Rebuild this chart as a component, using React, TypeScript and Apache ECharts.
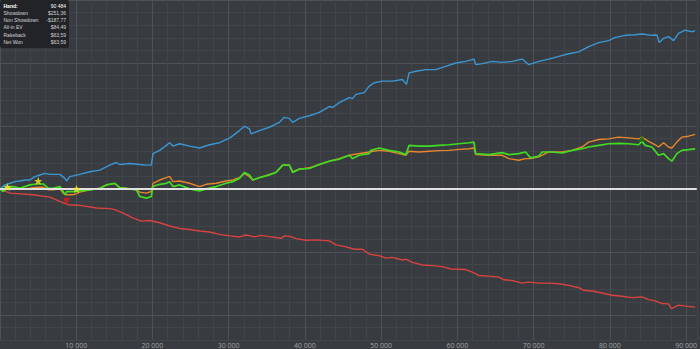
import React, { useEffect, useRef } from "react";
import * as echarts from "echarts";

// [hands, dollars]
const showdownData: number[][] = [
  [0, 0], [654, 6.3], [1309, 8.9], [1963, 11.5], [2618, 12.6], [3272, 14.1], [3927, 14.1], [4581, 19.4],
  [5236, 22.0], [5890, 24.6], [6545, 23.0], [7853, 23.0], [8508, 16.7], [8726, 12.6], [9162, 19.4],
  [10471, 23.0], [11780, 27.2], [13089, 29.8], [14398, 37.7], [15271, 41.9], [15707, 38.7], [17016, 40.3],
  [18325, 38.7], [19197, 37.7], [19852, 37.7], [20070, 56.0], [20942, 61.2], [21815, 69.1], [22251, 73.3],
  [22688, 68.0], [23560, 71.7], [24869, 68.0], [26178, 64.9], [27487, 70.1], [28796, 73.3], [30105, 80.6],
  [31414, 92.6], [32068, 99.4], [32723, 95.2], [32941, 87.4], [34031, 92.6], [35340, 97.9], [36649, 105.7],
  [37304, 113.6], [37958, 112.0], [38394, 105.7], [39267, 112.0], [40576, 116.2], [41885, 121.4],
  [43194, 130.8], [43630, 129.3], [44503, 137.1], [45815, 145.0], [46251, 143.4], [46688, 150.2],
  [47778, 152.8], [48433, 163.3], [49087, 168.5], [50178, 171.1], [51487, 171.1], [52796, 173.7],
  [53319, 165.9], [53668, 184.2], [54541, 186.8], [55850, 189.4], [57159, 189.4], [58468, 194.7],
  [59777, 199.9], [61086, 202.5], [62176, 206.2], [62395, 197.3], [63267, 198.9], [64576, 202.5],
  [65885, 200.9], [67194, 202.5], [68503, 206.2], [69375, 197.3], [70684, 202.5], [71993, 206.2],
  [73302, 210.4], [74611, 214.6], [75920, 217.7], [77229, 226.1], [78538, 232.3], [79847, 235.5],
  [80719, 240.7], [82028, 243.9], [83337, 244.9], [84209, 246.0], [85518, 243.9], [86173, 244.4],
  [86478, 232.3], [87045, 239.1], [87700, 241.8], [88354, 235.5], [89009, 247.0], [89882, 252.2],
  [90754, 249.5], [91191, 251.36],
];

const nonShowdownData: number[][] = [
  [0, 0], [1309, -6.8], [4320, -9.4], [6545, -13.0], [8077, -20.9], [8941, -25.1], [10472, -26.1],
  [12658, -30.3], [14399, -31.4], [15054, -33.0], [16101, -38.1], [17410, -46.0], [18549, -51.2],
  [19635, -50.2], [20944, -53.8], [22253, -59.0], [23562, -62.8], [24871, -64.4], [26180, -66.9],
  [27489, -68.4], [28798, -72.2], [30107, -74.7], [31416, -76.3], [32293, -73.2], [33380, -76.3],
  [34257, -73.8], [35343, -75.8], [36875, -78.5], [37307, -74.7], [38184, -75.8], [38838, -79.0],
  [40147, -81.6], [41456, -81.0], [43197, -82.6], [44074, -88.9], [45383, -92.0], [46470, -95.8],
  [47556, -95.8], [48433, -103.6], [49742, -106.1], [50619, -109.9], [51483, -108.8], [52792, -113.0],
  [53237, -111.5], [54101, -116.6], [55410, -120.9], [56719, -121.8], [58028, -123.4], [59128, -127.2],
  [61091, -128.1], [61955, -132.3], [62832, -137.5], [64141, -138.6], [65450, -140.2], [66105, -144.4],
  [67152, -145.4], [68461, -149.6], [69377, -148.0], [70686, -149.6], [71995, -149.6], [73304, -150.7],
  [74613, -153.2], [75922, -157.0], [76577, -161.1], [77663, -162.2], [78972, -165.3], [80281, -168.9],
  [81590, -170.5], [82899, -172.7], [84208, -171.6], [85085, -175.8], [85962, -177.9], [86826, -182.1],
  [87703, -182.6], [88056, -190.0], [89012, -184.6], [89889, -186.2], [91191, -187.77],
];

const allInEvData: number[][] = [
  [0, 0], [436, -3.1], [873, 2.1], [1745, 1.0], [2618, 0], [3927, 1.0], [4799, 2.6], [5672, 2.6],
  [6326, -1.6], [6981, -1.6], [7853, 0], [8290, -6.8], [8726, -9.4], [9599, -9.4], [10471, -5.2],
  [11780, -1.6], [13089, 1.0], [13962, 6.3], [15052, 8.4], [15707, 2.1], [17016, 0], [17888, -1.6],
  [18325, -5.2], [19197, -6.8], [19852, -4.2], [20070, 8.9], [20942, 14.1], [21815, 17.8], [22251, 19.9],
  [22688, 11.5], [23560, 12.6], [24869, 8.9], [26178, 3.7], [27051, 7.3], [28360, 8.9], [29668, 12.6],
  [30541, 14.1], [31414, 17.8], [32068, 24.6], [32723, 19.4], [33159, 14.1], [34031, 17.8], [35340, 23.0],
  [36213, 26.2], [37086, 37.7], [37958, 37.7], [38394, 27.2], [39267, 31.4], [40576, 33.5], [41885, 38.7],
  [43194, 44.0], [44503, 48.1], [45815, 53.4], [48433, 58.6], [49742, 61.2], [51051, 59.7], [52360, 56.0],
  [53232, 53.4], [53668, 59.7], [54977, 58.6], [56286, 59.7], [57595, 60.7], [58904, 61.2], [60213, 62.8],
  [61522, 63.8], [62176, 64.9], [62395, 54.4], [64140, 53.4], [65885, 53.4], [66757, 48.1], [68066, 45.5],
  [68939, 48.1], [69593, 48.1], [70684, 50.8], [71993, 58.6], [73738, 58.6], [75047, 61.2], [76356, 66.5],
  [77229, 74.3], [78538, 78.5], [79847, 79.5], [81155, 82.2], [82464, 81.1], [83773, 79.5], [84209, 82.2],
  [85082, 75.4], [85954, 70.1], [86391, 66.5], [87045, 73.3], [87700, 66.5], [88136, 64.9], [88790, 74.3],
  [89445, 82.2], [90318, 83.7], [91191, 86.5],
];

const netWonData: number[][] = [
  [0, 0], [436, -4.2], [873, 3.7], [1745, 3.7], [2618, 1.0], [3927, 6.3], [4799, 7.8], [5672, 7.8],
  [6326, 1.0], [6981, 1.0], [7853, 3.7], [8290, -4.2], [8508, -9.4], [8726, -4.2], [9599, -4.2],
  [10471, -3.1], [11780, -1.6], [13089, 1.0], [13962, 6.3], [15052, 8.9], [15707, 2.1], [17016, 0],
  [17888, -1.6], [18325, -12.0], [19197, -14.7], [19852, -12.0], [20070, 3.7], [20942, 7.3], [21815, 8.9],
  [22251, 11.5], [22688, 3.7], [23560, 6.3], [24869, 0], [26178, -3.1], [27051, 0], [28360, 3.7],
  [29668, 8.9], [30541, 11.5], [31414, 16.7], [32068, 26.2], [32723, 22.0], [33159, 14.1], [34031, 17.8],
  [35340, 22.0], [36213, 26.2], [37086, 37.7], [37958, 37.7], [38394, 26.2], [39267, 31.4], [40576, 32.4],
  [41885, 38.7], [43194, 44.0], [44503, 47.1], [45815, 53.4], [46251, 48.1], [47124, 53.4], [48433, 56.0],
  [48651, 61.2], [49742, 64.9], [51051, 61.2], [52360, 58.6], [53232, 54.4], [53668, 69.1], [54977, 68.0],
  [56286, 68.0], [57595, 69.1], [58904, 70.1], [60213, 71.7], [61522, 73.3], [62176, 74.3], [62395, 56.0],
  [64140, 54.4], [65885, 57.6], [66757, 54.4], [68066, 56.0], [68939, 58.6], [69593, 49.2], [70684, 52.3],
  [71120, 58.6], [72429, 58.6], [73738, 57.0], [75047, 61.2], [76356, 63.8], [77229, 66.5], [78538, 69.1],
  [79847, 71.7], [81155, 72.2], [82464, 71.7], [83773, 70.1], [84209, 75.4], [84645, 69.1], [85518, 66.5],
  [86391, 53.4], [87045, 56.0], [87700, 48.1], [88136, 44.0], [88790, 56.0], [89445, 61.2], [90318, 62.3],
  [91191, 63.59],
];

const starPoints: number[][] = [[960, 3.1], [5017, 12.6], [10035, 0]];
const redMarkerPoints: number[][] = [[8726, -19.5]];
const greenMarkerPoints: number[][] = [[84209, 80.6]];

const summaryLabels = ["Hand:", "Showdown", "Non Showdown", "All-in EV", "Rakeback", "Net Won"];
const summaryValues = ["90 484", "$251,36", "-$187,77", "$84,49", "$63,59", "$63,59"];

const xTickStep = 2000;
const yTickStep = 20;

const BG = "#383b3f";
const MINOR = "#41454a";
const MAJOR = "#4e5257";
const STAR = "path://M12,1 L15,9 L23,9.3 L17,14.5 L19,22.5 L12,18 L5,22.5 L7,14.5 L1,9.3 L9,9 Z";

function fmt(v: number) {
  const s = String(Math.round(v));
  return s.replace(/\B(?=(\d{3})+(?!\d))/g, " ");
}

export default function App() {
  const ref = useRef<HTMLDivElement>(null);
  useEffect(() => {
    if (!ref.current) return;
    const chart = echarts.init(ref.current, null, { renderer: "svg" });
    const font = "'Open Sans', 'DejaVu Sans', sans-serif";
    const boxFont = "'Liberation Sans', Arial, sans-serif";
    const graphicEls: any[] = [
      {
        type: "rect",
        left: 0,
        top: 0,
        z: 100,
        shape: { x: 0, y: 0, width: 69, height: 48, r: 2 },
        style: { fill: "rgba(32,34,37,0.95)" },
      },
    ];
    summaryLabels.forEach((lab, i) => {
      const y = 5.5 + i * 7.3;
      graphicEls.push({
        type: "text",
        z: 101,
        x: 3.5,
        y,
        style: {
          text: lab,
          fill: i === 0 ? "#ffffff" : "#d4d4d4",
          font: `${i === 0 ? "bold " : ""}5px ${boxFont}`,
          textAlign: "left",
          textVerticalAlign: "middle",
        },
      });
      graphicEls.push({
        type: "text",
        z: 101,
        x: 66,
        y,
        style: {
          text: summaryValues[i],
          fill: i === 0 ? "#ffffff" : "#d4d4d4",
          font: `5px ${boxFont}`,
          textAlign: "right",
          textVerticalAlign: "middle",
        },
      });
    });

    chart.setOption({
      animation: false,
      backgroundColor: BG,
      grid: { left: 0, right: 2, top: 0, bottom: 6, containLabel: false },
      xAxis: {
        type: "value",
        min: 0,
        max: 91400,
        interval: xTickStep,
        axisLine: { show: true, lineStyle: { color: "#5c6065", width: 1 } },
        axisTick: { show: false },
        axisLabel: {
          show: true,
          color: "#a0a3a6",
          fontSize: 7,
          fontFamily: font,
          margin: 2,
          showMinLabel: false,
          showMaxLabel: false,
          hideOverlap: false,
          formatter: (v: number) => (v > 0 && v % 10000 === 0 ? fmt(v) : ""),
        },
        splitLine: {
          show: true,
          showMinLine: true,
          showMaxLine: true,
          lineStyle: { color: [MAJOR, MINOR, MINOR, MINOR, MINOR], width: 1 },
        },
      },
      yAxis: {
        type: "value",
        min: -240,
        max: 300,
        interval: yTickStep,
        axisLine: { show: false },
        axisTick: { show: false },
        axisLabel: { show: false },
        splitLine: {
          show: true,
          showMinLine: true,
          showMaxLine: true,
          lineStyle: { color: [MINOR, MINOR, MAJOR, MINOR, MINOR], width: 1 },
        },
      },
      graphic: graphicEls,
      series: [
        {
          name: "Showdown",
          type: "line",
          data: showdownData,
          showSymbol: false,
          lineStyle: { color: "#3b97d3", width: 1.4 },
          z: 2,
        },
        {
          name: "Non Showdown",
          type: "line",
          data: nonShowdownData,
          showSymbol: false,
          lineStyle: { color: "#d9433f", width: 1.4 },
          z: 2,
        },
        {
          name: "All-in EV",
          type: "line",
          data: allInEvData,
          showSymbol: false,
          lineStyle: { color: "#e8862c", width: 1.4 },
          z: 3,
        },
        {
          name: "Net Won",
          type: "line",
          data: netWonData,
          showSymbol: false,
          lineStyle: { color: "#3fdc22", width: 1.7 },
          z: 4,
          markLine: {
            silent: true,
            symbol: "none",
            label: { show: false },
            lineStyle: { color: "#e0e0e0", width: 2, type: "solid" },
            data: [{ yAxis: 0 }],
          },
        },
        {
          type: "scatter",
          data: starPoints,
          symbol: STAR,
          symbolSize: 8,
          itemStyle: { color: "#f4e62a" },
          z: 6,
        },
        {
          type: "scatter",
          data: redMarkerPoints,
          symbol: "triangle",
          symbolRotate: 180,
          symbolSize: 7,
          itemStyle: { color: "#e01818" },
          z: 6,
        },
        {
          type: "scatter",
          data: greenMarkerPoints,
          symbol: "triangle",
          symbolSize: 7,
          itemStyle: { color: "#157a15" },
          z: 6,
        },
      ],
    });
    return () => chart.dispose();
  }, []);
  return (
    <div
      ref={ref}
      style={{ position: "fixed", left: 0, top: 0, width: 700, height: 349, background: BG }}
    />
  );
}
